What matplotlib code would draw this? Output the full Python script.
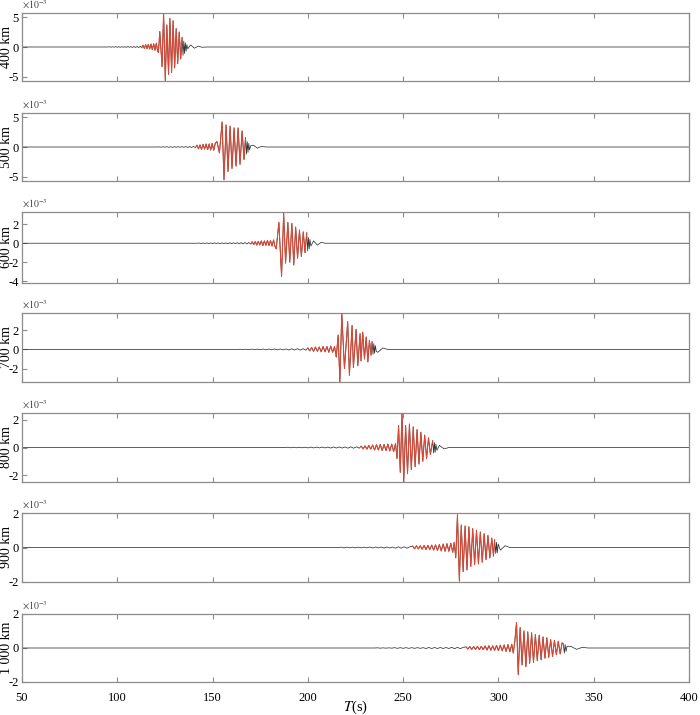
import numpy as np
import matplotlib
matplotlib.use("Agg")
import matplotlib.pyplot as plt

plt.rcParams['font.family'] = ['Liberation Serif', 'DejaVu Serif']
plt.rcParams['mathtext.fontset'] = 'stix'

# ---------------- data (amplitudes in 1e-3 units) ----------------
labels = ["400 km", "500 km", "600 km", "700 km", "800 km", "900 km", "1 000 km"]
xticks = [50, 100, 150, 200, 250, 300, 350, 400]
ylims = [(-5.7, 5.7), (-5.7, 5.7), (-4.2, 3.3), (-3.4, 3.8), (-2.5, 2.5), (-2.0, 2.0), (-2.0, 2.0)]
yticks = [[-5, 0, 5], [-5, 0, 5], [-4, -2, 0, 2], [-2, 0, 2], [-2, 0, 2], [-2, 0, 2], [-2, 0, 2]]
red_windows = [(112.8, 134.0), (141.5, 167.3), (170.5, 199.4), (200.0, 233.7),
               (228.0, 265.5), (255.0, 298.0), (283.0, 334.0)]

t400 = [50, 95, 96.0, 96.8, 97.6, 98.4, 99.2, 100.0, 100.8, 101.6, 102.4, 103.2, 104.0, 104.8,
        105.6, 106.4, 107.2, 108.0, 108.8, 109.6, 110.4, 111.2, 112.0, 112.8,
        113.5, 114.2, 114.9, 115.6, 116.3, 117.0, 117.7, 118.4, 119.1, 119.8, 120.5, 121.2,
        121.6, 122.3, 123.5, 124.3, 125.2, 126.0, 126.9, 127.6, 128.5, 129.3, 130.1, 130.9,
        131.7, 132.5, 133.3, 134.0,
        134.5, 134.9, 135.3, 135.7, 136.1, 136.5, 137.0, 138.5, 140.5, 142.5, 144.5, 147, 400]
a400 = [0, 0, 0.03, -0.03, 0.04, -0.03, 0.05, -0.04, 0.05, -0.05, 0.06, -0.05, 0.06, -0.06,
        0.08, -0.06, 0.08, -0.08, 0.09, -0.08, 0.1, -0.1, 0.1, -0.12,
        0.3, -0.25, 0.4, -0.3, 0.45, -0.35, 0.5, -0.45, 0.55, -0.55, 0.65, -0.75,
        -0.9, 2.6, -3.3, 5.7, -5.7, 3.7, -4.6, 4.8, -4.3, 4.4, -3.5, 3.1,
        -2.8, 2.5, -2.0, 1.6,
        -1.4, 1.0, -1.1, 0.7, -0.7, 0.4, -0.3, 0.35, -0.2, 0.15, -0.05, 0, 0]

t500 = [50, 121, 122.0, 123.0, 124.0, 125.0, 126.0, 127.0, 128.0, 129.0, 130.0, 131.0, 132.0,
        133.0, 134.0, 135.0, 136.0, 137.0, 138.0, 139.0, 140.0, 141.0,
        141.8, 142.6, 143.4, 144.2, 145.0, 145.8, 146.6, 147.4, 148.2, 149.0, 149.8, 150.6,
        151.4, 152.3, 153.6, 155.0, 156.0, 157.1, 158.1, 159.2, 160.2, 161.3, 162.3, 163.4,
        164.4, 165.5, 166.5, 167.3,
        167.8, 168.2, 168.6, 169.0, 169.4, 170.0, 171.5, 173.5, 175.5, 178, 400]
a500 = [0, 0, 0.02, -0.03, 0.03, -0.03, 0.04, -0.04, 0.04, -0.05, 0.05, -0.05, 0.06,
        -0.05, 0.06, -0.06, 0.07, -0.07, 0.08, -0.08, 0.09, -0.1,
        0.3, -0.3, 0.35, -0.4, 0.45, -0.35, 0.5, -0.45, 0.5, -0.5, 0.6, -0.55,
        0.6, 0.9, -1.0, 4.2, -5.5, 3.7, -4.1, 3.5, -3.6, 3.2, -3.2, 3.2,
        -2.9, 2.7, -2.1, 1.6,
        -1.2, 0.9, -0.9, 0.6, -0.5, 0.2, 0.3, -0.2, 0.1, 0, 0]

t600 = [50, 142, 143.0, 144.0, 145.0, 146.0, 147.0, 148.0, 149.0, 150.0, 151.0, 152.0, 153.0,
        154.0, 155.0, 156.0, 157.0, 158.0, 159.0, 160.0, 161.0, 162.0, 163.0, 164.0, 165.0,
        166.0, 167.0, 168.0, 169.0, 170.0,
        170.8, 171.6, 172.4, 173.2, 174.0, 174.8, 175.6, 176.4, 177.2, 178.0, 178.8, 179.6,
        180.4, 181.2, 182.0, 182.7, 183.4, 184.8, 186.2, 187.3, 188.3, 189.5, 190.5, 191.6,
        192.6, 193.6, 194.6, 195.6, 196.6, 197.6, 198.5, 199.4,
        199.9, 200.3, 200.7, 201.1, 201.6, 203.0, 205.0, 207.0, 209.0, 400]
a600 = [0, 0, 0.02, -0.02, 0.02, -0.02, 0.03, -0.03, 0.03, -0.03, 0.03, -0.03, 0.04,
        -0.04, 0.04, -0.04, 0.04, -0.05, 0.05, -0.05, 0.05, -0.05, 0.06, -0.06, 0.06,
        -0.07, 0.08, -0.08, 0.08, -0.09,
        0.15, -0.15, 0.18, -0.2, 0.2, -0.18, 0.25, -0.25, 0.25, -0.22, 0.3, -0.25,
        0.3, -0.3, 0.35, -0.3, -0.6, 2.2, -3.5, 3.2, -2.1, 2.2, -2.0, 2.1,
        -2.3, 1.7, -1.6, 1.4, -1.4, 1.2, -1.0, 1.1,
        -0.8, 0.6, -0.6, 0.4, -0.3, 0.25, -0.2, 0.1, 0, 0]

t700 = [50, 163, 164.5, 166.0, 167.5, 169.0, 170.5, 172.0, 173.5, 175.0, 176.5, 178.0, 179.5,
        181.0, 182.5, 184.0, 185.5, 187.0, 188.5, 190.0, 191.5, 193.0, 194.5, 196.0, 197.5,
        199.0,
        200.0, 201.0, 202.0, 203.0, 204.0, 205.0, 206.0, 207.0, 208.0, 209.0, 210.0, 211.0,
        212.0, 213.0, 214.0, 214.9, 215.9, 216.8, 217.8, 219.2, 220.9, 221.8, 223.2, 223.9,
        225.3, 226.2, 227.4, 227.9, 228.8, 229.7, 230.6, 231.5, 232.3, 233.2, 233.7,
        234.2, 234.6, 235.0, 235.4, 235.9, 236.7, 239.3, 241.9, 400]
a700 = [0, 0, 0.02, -0.02, 0.02, -0.02, 0.03, -0.03, 0.03, -0.03, 0.04, -0.04, 0.04,
        -0.04, 0.05, -0.05, 0.05, -0.05, 0.05, -0.06, 0.06, -0.06, 0.07, -0.07, 0.07,
        -0.08,
        0.15, -0.15, 0.2, -0.2, 0.25, -0.2, 0.25, -0.25, 0.3, -0.25, 0.3, -0.3,
        0.35, -0.3, 0.3, -0.8, 1.5, -3.4, 3.8, -2.0, 2.9, -2.7, 2.5, -1.9,
        2.1, -1.7, 1.65, -1.2, 1.8, -1.0, 1.3, -1.3, 0.95, -0.6, 0.8,
        -0.5, 0.6, -0.4, 0.4, -0.2, -0.3, 0.15, 0, 0]

t800 = [50, 185, 186.5, 188.0, 189.5, 191.0, 192.5, 194.0, 195.5, 197.0, 198.5, 200.0, 201.5,
        203.0, 204.5, 206.0, 207.5, 209.0, 210.5, 212.0, 213.5, 215.0, 216.5, 218.0, 219.5,
        221.0, 222.5, 224.0, 225.5, 227.0,
        228.0, 229.0, 230.0, 231.0, 232.0, 233.0, 234.0, 235.0, 236.0, 237.0, 238.0, 239.0,
        240.0, 241.0, 242.0, 243.0, 244.0, 245.0, 246.0, 246.8, 247.6, 248.5, 249.4, 250.3,
        251.3, 252.3, 253.3, 254.3, 255.3, 256.3, 257.3, 258.3, 259.3, 260.3, 261.3, 262.3,
        263.3, 264.3, 265.5,
        266.0, 266.4, 266.8, 267.2, 267.7, 269.0, 271.5, 274.0, 400]
a800 = [0, 0, 0.01, -0.01, 0.02, -0.02, 0.02, -0.02, 0.02, -0.02, 0.02, -0.03, 0.03,
        -0.03, 0.03, -0.03, 0.03, -0.03, 0.03, -0.04, 0.04, -0.04, 0.04, -0.04, 0.04,
        -0.05, 0.05, -0.05, 0.05, -0.05,
        0.1, -0.1, 0.12, -0.12, 0.15, -0.12, 0.18, -0.18, 0.2, -0.18, 0.22, -0.22,
        0.22, -0.22, 0.25, -0.25, 0.25, -0.3, 0.3, -0.8, 1.6, -1.8, 2.5, -2.5,
        1.6, -1.9, 1.7, -1.6, 1.5, -1.4, 1.3, -1.2, 1.1, -1.0, 0.9, -0.8,
        0.7, -0.5, 0.5,
        -0.4, 0.35, -0.35, 0.25, -0.2, 0.15, -0.1, 0, 0]

t900 = [50, 210, 211.5, 213.0, 214.5, 216.0, 217.5, 219.0, 220.5, 222.0, 223.5, 225.0, 226.5,
        228.0, 229.5, 231.0, 232.5, 234.0, 235.5, 237.0, 238.5, 240.0, 241.5, 243.0, 244.5,
        246.0, 247.5, 249.0, 250.5, 252.0, 253.5,
        255.0, 256.0, 257.0, 258.0, 259.0, 260.0, 261.0, 262.0, 263.0, 264.0, 265.0, 266.0,
        267.0, 268.0, 269.0, 270.0, 271.0, 272.0, 273.0, 274.0, 275.0, 276.0, 276.8, 277.6,
        278.5, 279.5, 280.5, 281.5, 282.5, 283.5, 284.5, 285.5, 286.5, 287.5, 288.5, 289.5,
        290.5, 291.5, 292.5, 293.5, 294.5, 295.5, 296.5, 297.4, 298.0,
        298.6, 299.0, 299.4, 299.9, 301.0, 303.5, 306.0, 400]
a900 = [0, 0, 0.01, -0.01, 0.01, -0.01, 0.02, -0.02, 0.02, -0.02, 0.02, -0.02, 0.02,
        -0.02, 0.02, -0.02, 0.03, -0.03, 0.03, -0.03, 0.03, -0.03, 0.03, -0.03, 0.03,
        -0.04, 0.04, -0.04, 0.04, -0.04, 0.04,
        0.08, -0.08, 0.1, -0.08, 0.1, -0.1, 0.12, -0.12, 0.12, -0.12, 0.14, -0.15,
        0.15, -0.17, 0.17, -0.2, 0.2, -0.22, 0.22, -0.22, 0.25, -0.28, 0.3, -0.6,
        1.9, -1.95, 1.3, -1.4, 1.25, -1.3, 1.2, -1.1, 1.1, -1.0, 1.0, -0.95,
        0.9, -0.85, 0.8, -0.7, 0.7, -0.6, 0.55, -0.5, 0.45,
        -0.35, 0.3, -0.3, 0.2, -0.15, 0.1, 0, 0]

t1000 = [50, 235, 236.5, 238.0, 239.5, 241.0, 242.5, 244.0, 245.5, 247.0, 248.5, 250.0, 251.5,
         253.0, 254.5, 256.0, 257.5, 259.0, 260.5, 262.0, 263.5, 265.0, 266.5, 268.0, 269.5,
         271.0, 272.5, 274.0, 275.5, 277.0, 278.5, 280.0, 281.5,
         283.0, 284.0, 285.0, 286.0, 287.0, 288.0, 289.0, 290.0, 291.0, 292.0, 293.0, 294.0,
         295.0, 296.0, 297.0, 298.0, 299.0, 300.0, 301.0, 302.0, 303.0, 304.0, 305.0, 306.0,
         307.0, 307.8, 308.6, 309.5, 310.4, 311.4, 312.4, 313.4, 314.4, 315.4, 316.4, 317.4,
         318.4, 319.4, 320.4, 321.4, 322.4, 323.4, 324.4, 325.4, 326.4, 327.4, 328.4, 329.4,
         330.4, 331.4, 332.4, 333.4, 334.0,
         334.6, 335.0, 335.5, 336.0, 338.0, 341.0, 344.0, 347.0, 400]
a1000 = [0, 0, 0.01, -0.01, 0.01, -0.01, 0.01, -0.01, 0.02, -0.02, 0.02, -0.02, 0.02,
         -0.02, 0.02, -0.02, 0.02, -0.02, 0.02, -0.03, 0.03, -0.03, 0.03, -0.03, 0.03,
         -0.03, 0.03, -0.03, 0.04, -0.04, 0.04, -0.04, 0.04,
         0.06, -0.06, 0.08, -0.08, 0.08, -0.08, 0.1, -0.1, 0.1, -0.1, 0.12, -0.12,
         0.13, -0.13, 0.13, -0.14, 0.15, -0.15, 0.17, -0.17, 0.18, -0.2, 0.2, -0.22,
         0.22, -0.3, 0.4, 1.5, -1.57, 1.2, -1.0, 1.0, -1.1, 0.95, -0.9, 0.9,
         -0.85, 0.8, -0.75, 0.75, -0.7, 0.65, -0.6, 0.6, -0.55, 0.5, -0.5, 0.45,
         -0.4, 0.4, -0.35, 0.3, 0.25,
         -0.3, 0.2, -0.2, 0.1, 0.1, -0.08, 0.04, 0, 0]

times = [t400, t500, t600, t700, t800, t900, t1000]
amps = [a400, a500, a600, a700, a800, a900, a1000]

# ---------------- layout ----------------
W, H = 700, 715
fig = plt.figure(figsize=(W / 100, H / 100), dpi=100)
boxes_px = [(13, 81), (113, 181), (212, 283), (313, 382), (413, 482), (513, 582), (614, 682)]
left_px, right_px = 22, 689
frame_col = '#8c8c8c'
red_col = '#dc4633'
blk_col = '#333333'
axw = right_px - left_px

for i in range(7):
    top, bot = boxes_px[i]
    ax = fig.add_axes([left_px / W, 1 - bot / H, axw / W, (bot - top) / H])
    t = np.array(times[i], dtype=float)
    a = np.array(amps[i], dtype=float)
    ax.plot(t, a, color=blk_col, lw=0.55, zorder=2)
    lo, hi = red_windows[i]
    m = (t >= lo) & (t <= hi)
    ax.plot(t[m], a[m], color=red_col, lw=0.75, zorder=3)
    ax.set_xlim(50, 400)
    ax.set_ylim(*ylims[i])
    ax.set_xticks(xticks)
    ax.set_yticks(yticks[i])
    ax.set_yticklabels([str(v) for v in yticks[i]])
    ax.tick_params(axis='both', direction='in', length=3.5, width=0.8, color=frame_col,
                   labelsize=9, top=True, right=False)
    ax.tick_params(axis='y', pad=2.5)
    ax.tick_params(axis='x', pad=7)
    for s in ax.spines.values():
        s.set_color(frame_col)
        s.set_linewidth(0.9)
    if i < 6:
        ax.tick_params(labelbottom=False)
    else:
        ax.set_xlabel(r'$T$(s)', fontsize=10.5)
        ax.xaxis.set_label_coords(0.5, -(699 - bot) / (bot - top))
    ax.set_ylabel(labels[i], fontsize=10, labelpad=0)
    ax.yaxis.set_label_coords(-8.5 / axw, 0.5)
    ax.text(0.0, 1.03, r'$\times10^{-3}$', transform=ax.transAxes, fontsize=7,
            ha='left', va='bottom', color='#444444')

fig.savefig('out.png', dpi=100)
